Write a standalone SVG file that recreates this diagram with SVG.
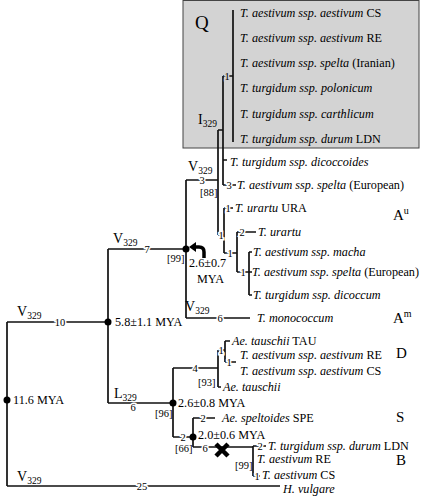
<svg xmlns="http://www.w3.org/2000/svg" width="421" height="496" viewBox="0 0 421 496">
<style>
.l{stroke:#111;stroke-width:1.7;fill:none}
.t{font-family:"Liberation Serif","Times New Roman",serif;fill:#000}
.sp{font-size:12.2px;font-style:italic}
.r{font-style:normal}
.n{font-family:"Liberation Serif","Times New Roman",serif;font-size:10.5px;text-anchor:middle;stroke:#fff;stroke-width:3;paint-order:stroke;fill:#000}
.ng{stroke:#d3d3d3}
.m{font-size:12.2px}
.b{font-size:10.5px}
.v{font-size:14px}
.sub{font-size:9.5px}
.g{font-size:15px}
.dot{fill:#000}
</style>
<rect id="box-Q" x="183" y="0.5" width="236" height="147.5" fill="#d3d3d3" stroke="#444" stroke-width="1"/>
<g id="connectors" class="l">
<path d="M7,322 V486 M7,322 H108 M7,486 H280"/>
<path d="M108,249 V403 M108,249 H186 M108,403 H173"/>
<path d="M186,180 V318 M186,180 H218 M186,318 H250"/>
<path d="M218,130 V235 M218,130 H223 M223,76 V185 M223,76 H233 M233,10 V142 M223,160 H227 M223,185 H236"/>
<path d="M218,235 H224 M224,208 V253 M224,208 H233 M224,253 H237 M237,232 V272 M237,232 H256 M237,272 H249 M249,252 V295 M249,252 H252 M249,272 H252 M249,295 H252"/>
<path d="M173,368 V437 M173,368 H218 M173,437 H193"/>
<path d="M218,350 V387 M218,350 H225 M218,387 H221 M225,341 V362 M225,341 H230 M225,362 H236"/>
<path d="M193,418 V447 M193,418 H215 M193,447 H253 M253,446 V476 M253,446 H266 M253,476 H260"/>
</g>
<g id="branch-numbers">
<text class="n" x="60" y="325.7">10</text>
<text class="n" x="147" y="252.7">7</text>
<text class="n" x="202" y="184">3</text>
<text class="n" x="220" y="321.7">6</text>
<text class="n ng" x="227" y="79.7">1</text>
<text class="n" x="229" y="189">3</text>
<text class="n" x="221" y="238.7">1</text>
<text class="n" x="228" y="211.7">1</text>
<text class="n" x="230" y="256.7">1</text>
<text class="n" x="242" y="235.7">2</text>
<text class="n" x="243" y="275.7">1</text>
<text class="n" x="195" y="371.7">4</text>
<text class="n" x="183" y="440.7">2</text>
<text class="n" x="221" y="353.7">1</text>
<text class="n" x="229" y="365.7">1</text>
<text class="n" x="203" y="421.7">2</text>
<text class="n" x="205" y="451.5">6</text>
<text class="n" x="260" y="450">2</text>
<text class="n" x="257" y="479.5">1</text>
<text class="n" x="142" y="489.7">25</text>
<text class="n" x="133" y="411">6</text>
</g>
<g id="support" class="t b">
<text x="167" y="262">[99]</text>
<text x="200" y="196">[88]</text>
<text x="155" y="417">[96]</text>
<text x="198" y="386">[93]</text>
<text x="175" y="452">[66]</text>
<text x="235" y="469">[99]</text>
</g>
<g id="mutations" class="t v">
<text x="17" y="316">V<tspan class="sub" dy="3">329</tspan></text>
<text x="113" y="243">V<tspan class="sub" dy="3">329</tspan></text>
<text x="188" y="171">V<tspan class="sub" dy="3">329</tspan></text>
<text x="185" y="311">V<tspan class="sub" dy="3">329</tspan></text>
<text x="17" y="481">V<tspan class="sub" dy="3">329</tspan></text>
<text x="114" y="398">L<tspan class="sub" dy="3">329</tspan></text>
<text x="198" y="124">I<tspan class="sub" dy="3">329</tspan></text>
</g>
<g id="node-root"><circle class="dot" cx="7" cy="400" r="3.5"/><text class="t m" x="13" y="404">11.6 MYA</text></g>
<g id="node-5.8"><circle class="dot" cx="108" cy="322" r="3.5"/><text class="t m" x="115" y="326">5.8±1.1 MYA</text></g>
<g id="node-2.6a"><circle class="dot" cx="186" cy="249" r="3.5"/>
<path d="M204,258 V252 Q204,247 199,247 H195" fill="none" stroke="#000" stroke-width="3.5"/>
<path d="M189,247 L196,242 L196,252 Z" fill="#000"/>
<text class="t m" x="189" y="267">2.6±0.7</text><text class="t m" x="197" y="283">MYA</text></g>
<g id="node-2.6b"><circle class="dot" cx="173" cy="403" r="3.5"/><text class="t m" x="178" y="407">2.6±0.8 MYA</text></g>
<g id="node-2.0"><circle class="dot" cx="193" cy="437" r="3.5"/><text class="t m" x="198" y="439">2.0±0.6 MYA</text></g>
<g id="loss-mark" stroke="#000" stroke-width="4.5"><path d="M216,444 L228,456 M228,444 L216,456"/></g>
<g id="labels-groups" class="t g">
<text x="195" y="29" font-size="19">Q</text>
<text x="393" y="220">A<tspan font-size="10" dy="-6">u</tspan></text>
<text x="393" y="323">A<tspan font-size="10" dy="-6">m</tspan></text>
<text x="396" y="358">D</text>
<text x="396" y="422">S</text>
<text x="396" y="465">B</text>
</g>
<g class="t sp">
<g id="leaf-1"><text x="240" y="17">T. aestivum ssp. aestivum<tspan class="r"> CS</tspan></text></g>
<g id="leaf-2"><text x="240" y="42">T. aestivum ssp. aestivum<tspan class="r"> RE</tspan></text></g>
<g id="leaf-3"><text x="240" y="67">T. aestivum ssp. spelta<tspan class="r"> (Iranian)</tspan></text></g>
<g id="leaf-4"><text x="240" y="92">T. turgidum ssp. polonicum</text></g>
<g id="leaf-5"><text x="240" y="118">T. turgidum ssp. carthlicum</text></g>
<g id="leaf-6"><text x="240" y="143">T. turgidum ssp. durum<tspan class="r"> LDN</tspan></text></g>
<g id="leaf-7"><text x="230" y="166">T. turgidum ssp. dicoccoides</text></g>
<g id="leaf-8"><text x="237" y="189">T. aestivum ssp. spelta<tspan class="r"> (European)</tspan></text></g>
<g id="leaf-9"><text x="235" y="212">T. urartu<tspan class="r"> URA</tspan></text></g>
<g id="leaf-10"><text x="258" y="236">T. urartu</text></g>
<g id="leaf-11"><text x="253" y="256">T. aestivum ssp. macha</text></g>
<g id="leaf-12"><text x="252" y="276">T. aestivum ssp. spelta<tspan class="r"> (European)</tspan></text></g>
<g id="leaf-13"><text x="253" y="299">T. turgidum ssp. dicoccum</text></g>
<g id="leaf-14"><text x="257" y="322">T. monococcum</text></g>
<g id="leaf-15"><text x="232" y="345">Ae. tauschii<tspan class="r"> TAU</tspan></text></g>
<g id="leaf-16"><text x="240" y="359">T. aestivum ssp. aestivum<tspan class="r"> RE</tspan></text></g>
<g id="leaf-17"><text x="240" y="375">T. aestivum ssp. aestivum<tspan class="r"> CS</tspan></text></g>
<g id="leaf-18"><text x="223" y="391">Ae. tauschii</text></g>
<g id="leaf-19"><text x="222" y="422">Ae. speltoides<tspan class="r"> SPE</tspan></text></g>
<g id="leaf-20"><text x="268" y="450">T. turgidum ssp. durum<tspan class="r"> LDN</tspan></text></g>
<g id="leaf-21"><text x="257" y="463">T. aestivum<tspan class="r"> RE</tspan></text></g>
<g id="leaf-22"><text x="262" y="479">T. aestivum<tspan class="r"> CS</tspan></text></g>
<g id="leaf-23"><text x="283" y="492.5">H. vulgare</text></g>
</g>
</svg>
